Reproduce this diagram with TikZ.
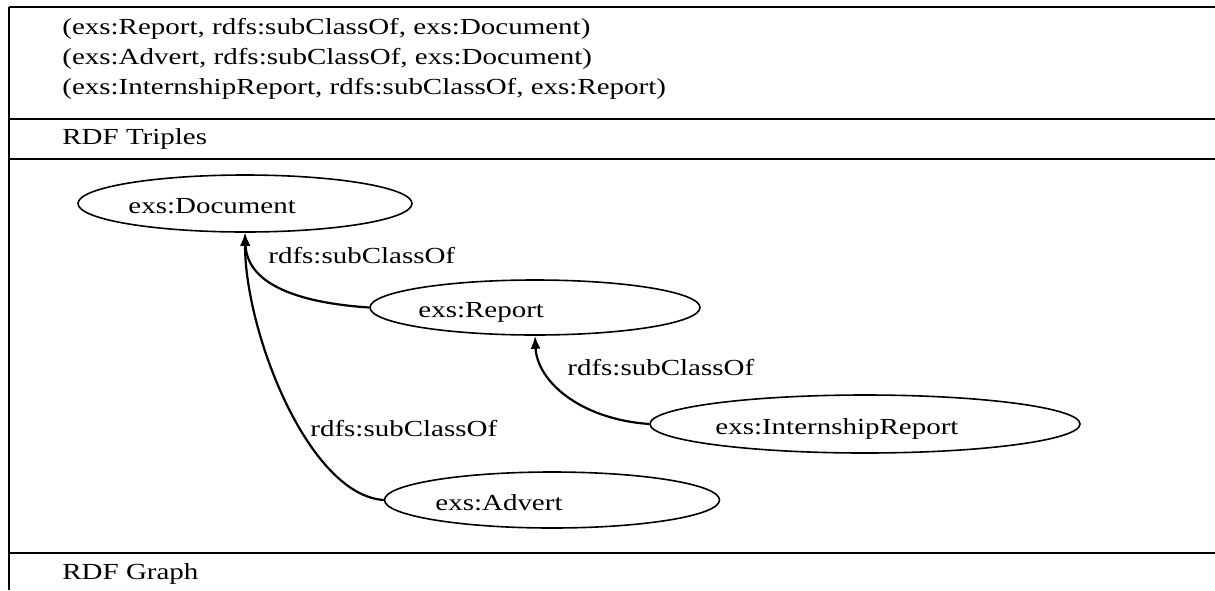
\documentclass[tikz,border=0pt]{standalone}
\usepackage{fontspec}
\setmainfont{Liberation Serif}
\usetikzlibrary{shapes.geometric,arrows.meta}
\newcommand{\wide}[1]{\scalebox{1.26}[1]{#1}}
\begin{document}
\begin{tikzpicture}[x=0.5pt,y=-0.5pt,
  txt/.style={inner sep=0pt,anchor=base west,font=\fontsize{11.5}{14}\selectfont},
  cls/.style={ellipse,draw,line width=0.8pt,inner sep=0pt},
  rule/.style={line width=1.3pt},
  sub/.style={line width=1.1pt,-{Latex[length=6.5pt,width=5pt]}}]
\useasboundingbox (0,0) rectangle (1215,590);
% table
\draw[rule] (9,7) -- (1215,7);
\draw[rule] (9,119) -- (1215,119);
\draw[rule] (9,159) -- (1215,159);
\draw[rule] (9,553) -- (1215,553);
\draw[rule] (9,7) -- (9,590);
% texts of the table
\node[txt] (t1) at (62,34) {\wide{(exs:Report, rdfs:subClassOf, exs:Document)}};
\node[txt] (t2) at (62,64) {\wide{(exs:Advert, rdfs:subClassOf, exs:Document)}};
\node[txt] (t3) at (62,94) {\wide{(exs:InternshipReport, rdfs:subClassOf, exs:Report)}};
\node[txt] (cap1) at (62,144) {\wide{RDF Triples}};
\node[txt] (cap2) at (62,579) {\wide{RDF Graph}};
% graph
\node[cls,minimum width=167pt,minimum height=28.5pt] (doc) at (245,203.5) {};
\node[cls,minimum width=165pt,minimum height=27.5pt] (rep) at (535,307.5) {};
\node[cls,minimum width=167.5pt,minimum height=28pt] (adv) at (552,500) {};
\node[cls,minimum width=215pt,minimum height=29pt] (int) at (865,424) {};
\node[txt] (docT) at (128,213) {\wide{exs:Document}};
\node[txt] (repT) at (418,317) {\wide{exs:Report}};
\node[txt] (advT) at (435,510) {\wide{exs:Advert}};
\node[txt] (intT) at (715,434) {\wide{exs:InternshipReport}};
\draw[sub] (rep.west) .. controls +(-75,-5) and +(2,50) .. (doc.south);
\draw[sub] (int.west) .. controls +(-70,-5) and +(2,45) .. (rep.south);
\draw[sub] (adv.west) .. controls +(-75,-5) and +(0,100) .. (doc.south);
\node[txt] (l1) at (268,263) {\wide{rdfs:subClassOf}};
\node[txt] (l2) at (567,375) {\wide{rdfs:subClassOf}};
\node[txt] (l3) at (310,436) {\wide{rdfs:subClassOf}};
\end{tikzpicture}
\end{document}
